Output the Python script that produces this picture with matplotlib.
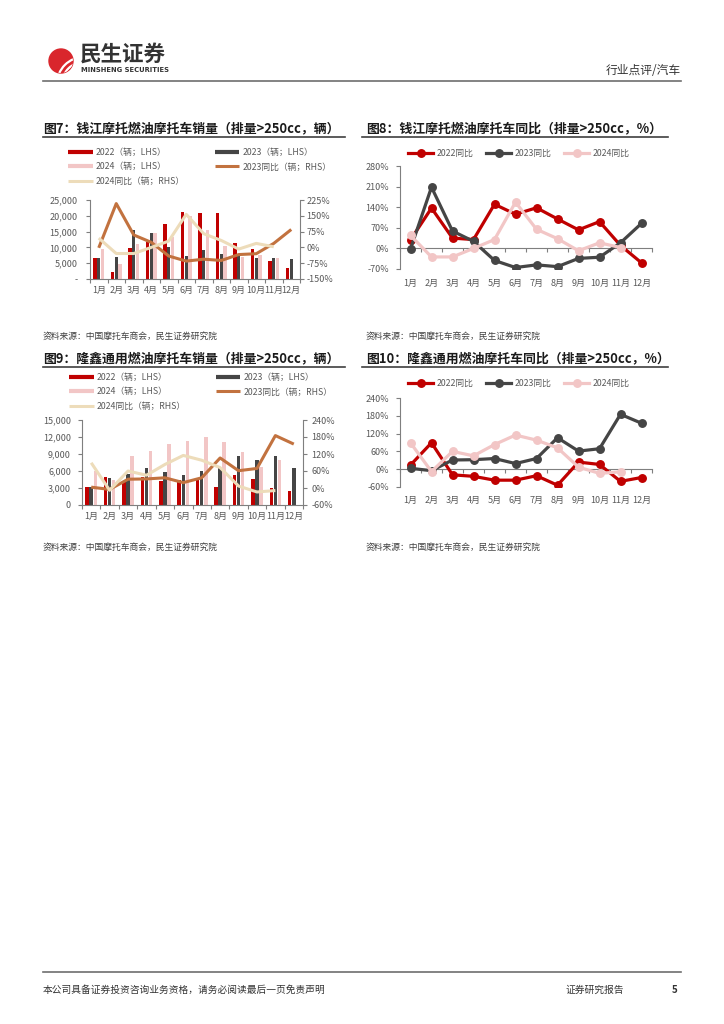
import numpy as np
import matplotlib
matplotlib.use("Agg")
import matplotlib.pyplot as plt
from matplotlib.lines import Line2D
from matplotlib.patches import Circle, Arc
from matplotlib.ticker import FuncFormatter

plt.rcParams['font.family'] = ['Noto Sans CJK SC', 'DejaVu Sans']
plt.rcParams['axes.unicode_minus'] = False

# ---- data ----
months = ['1月', '2月', '3月', '4月', '5月', '6月', '7月', '8月', '9月', '10月', '11月', '12月']

# 钱江 销量（辆）
qj_2022 = [6650, 2150, 9850, 11800, 17250, 21050, 20950, 20950, 11350, 9350, 5550, 3500]
qj_2023 = [6650, 6900, 15650, 14600, 10150, 7250, 9100, 7850, 7600, 6600, 6600, 6450]
qj_2024 = [9550, 4800, 11100, 14700, 13350, 19800, 15550, 10500, 7000, 7750, 6750]
# 钱江 同比（%）
qj_yoy_2022 = [29, 137, 35, 30, 150, 116, 138, 100, 63, 91, 10, -49]
qj_yoy_2023 = [-2, 208, 59, 24, -41, -65, -56, -62, -34, -30, 19, 85]
qj_yoy_2024 = [44, -29, -29, 0, 30, 157, 65, 33, -8, 19, 3]

# 隆鑫 销量（辆）
lx_2022 = [3180, 4900, 4130, 4990, 4300, 4450, 4400, 3180, 5290, 4650, 3060, 2480]
lx_2023 = [3180, 4680, 5410, 6590, 5880, 5290, 6060, 6470, 8590, 7940, 8650, 6470]
lx_2024 = [6000, 4400, 8650, 9530, 10770, 11350, 12060, 11060, 9290, 6770, 7880]
# 隆鑫 同比（%）
lx_yoy_2022 = [14, 89, -19, -24, -37, -37, -22, -54, 24, 16, -41, -28]
lx_yoy_2023 = [3, -5, 31, 32, 36, 19, 36, 106, 61, 69, 185, 155]
lx_yoy_2024 = [89, -8, 60, 45, 83, 115, 98, 72, 7, -14, -9]

RED = '#C00000'
DARK = '#454545'
PINK = '#F2C6C6'
BROWN = '#C2723F'
BEIGE = '#EDDCBA'
AX = '#7F7F7F'
TXT = '#595959'

W, H = 724, 1024
fig = plt.figure(figsize=(W / 100, H / 100), dpi=100)

# page layer in pixel coords
page = fig.add_axes([0, 0, 1, 1])
page.set_xlim(0, W)
page.set_ylim(H, 0)
page.axis('off')


def box(x0, y0, x1, y1):
    return fig.add_axes([x0 / W, 1 - y1 / H, (x1 - x0) / W, (y1 - y0) / H])


def fpt(x, y):
    return (x / W, 1 - y / H)


# ---- header ----
logo = Circle((61, 61), 12, color='#D9262C', zorder=2)
page.add_patch(logo)
for r in [17, 22, 27]:
    a = Arc((84, 84), 2 * r, 2 * r, theta1=0, theta2=360, color='white', lw=1.6, zorder=3)
    a.set_clip_path(logo)
    page.add_patch(a)
page.text(80, 54, '民生证券', fontsize=15.5, fontweight='bold', color='#333333', va='center')
page.text(81, 70, 'MINSHENG SECURITIES', fontsize=4.9, fontweight='bold', color='#333333',
          va='center', family='DejaVu Sans')
page.text(681, 70, '行业点评/汽车', fontsize=8.5, color='#333333', va='center', ha='right')
page.plot([43, 681], [81, 81], color='#6E6E6E', lw=1.2)

# ---- footer ----
page.plot([43, 681], [972, 972], color='#6E6E6E', lw=1.2)
page.text(43, 990, '本公司具备证券投资咨询业务资格，请务必阅读最后一页免责声明', fontsize=7,
          color='#333333', va='center')
page.text(565, 990, '证券研究报告', fontsize=7, color='#333333', va='center')
page.text(672, 990, '5', fontsize=7, color='#333333', va='center', fontweight='bold')

# ---- titles & sources ----
titles = [
    (43, 128, 43, 345, '图7：钱江摩托燃油摩托车销量（排量>250cc，辆）'),
    (366, 128, 362, 668, '图8：钱江摩托燃油摩托车同比（排量>250cc，%）'),
    (43, 358, 43, 345, '图9：隆鑫通用燃油摩托车销量（排量>250cc，辆）'),
    (366, 358, 362, 668, '图10：隆鑫通用燃油摩托车同比（排量>250cc，%）'),
]
for tx, ty, lx0, lx1, t in titles:
    page.text(tx, ty, t, fontsize=9.3, fontweight='bold', color='#1A1A1A', va='center')
    page.plot([lx0, lx1], [ty + 9, ty + 9], color='#404040', lw=1.2)

src = '资料来源：中国摩托车商会，民生证券研究院'
for sx, sy in [(43, 336), (366, 336), (43, 547), (366, 547)]:
    page.text(sx, sy, src, fontsize=6.3, color='#404040', va='center')

x = np.arange(12)


def bar_chart(rect, v22, v23, v24, yoy23, yoy24, ymax, ystep, rlim, rstep, zero_lab,
              lpad, rpad, legend_xy):
    ax = box(*rect)
    w = 0.19
    ax.bar(x - 0.22, v22, w, color=RED, zorder=2)
    ax.bar(x, v23, w, color=DARK, zorder=2)
    ax.bar(np.arange(len(v24)) + 0.22, v24, w, color=PINK, zorder=2)
    ax.set_xlim(-0.5, 11.5)
    ax.set_ylim(0, ymax)
    ax.set_yticks(np.arange(0, ymax + 1, ystep))
    ax.yaxis.set_major_formatter(FuncFormatter(lambda v, p: zero_lab if v == 0 else f'{v:,.0f}'))
    ax.set_xticks(x, months)
    ax.set_xticks(np.arange(-0.5, 12, 1), minor=True)
    ax.tick_params(axis='x', which='major', length=0, pad=5)
    ax.tick_params(axis='x', which='minor', length=3, color=AX, width=0.8)
    ax.tick_params(axis='y', length=3, color=AX, width=0.8, pad=lpad)
    ax.tick_params(labelsize=6.5, labelcolor=TXT)
    for s in ['top', 'right']:
        ax.spines[s].set_visible(False)
    for s in ['left', 'bottom']:
        ax.spines[s].set_color(AX)
        ax.spines[s].set_linewidth(0.8)

    ax2 = ax.twinx()
    ax2.plot(x, yoy23, color=BROWN, lw=2.2, solid_capstyle='butt')
    ax2.plot(np.arange(len(yoy24)), yoy24, color=BEIGE, lw=2.2, solid_capstyle='butt')
    ax2.set_ylim(*rlim)
    ax2.set_yticks(np.arange(rlim[0], rlim[1] + 1, rstep))
    ax2.yaxis.set_major_formatter(FuncFormatter(lambda v, p: f'{v:.0f}%'))
    ax2.tick_params(axis='y', length=3, color=AX, width=0.8, pad=rpad, labelsize=6.5,
                    labelcolor=TXT)
    for s in ['top', 'left', 'bottom']:
        ax2.spines[s].set_visible(False)
    ax2.spines['right'].set_color(AX)
    ax2.spines['right'].set_linewidth(0.8)

    hs = [Line2D([], [], color=RED, lw=3, solid_capstyle='butt'),
          Line2D([], [], color=PINK, lw=3, solid_capstyle='butt'),
          Line2D([], [], color=BEIGE, lw=2.2, solid_capstyle='butt'),
          Line2D([], [], color=DARK, lw=3, solid_capstyle='butt'),
          Line2D([], [], color=BROWN, lw=2.2, solid_capstyle='butt')]
    ls = ['2022（辆；LHS）', '2024（辆；LHS）', '2024同比（辆；RHS）',
          '2023（辆；LHS）', '2023同比（辆；RHS）']
    ax2.legend(hs, ls, ncol=2, loc='upper left', bbox_to_anchor=fpt(*legend_xy),
               bbox_transform=fig.transFigure, frameon=False, fontsize=6.3,
               handlelength=2.8, handletextpad=0.4, columnspacing=3.4,
               labelspacing=0.62, borderpad=0, borderaxespad=0, labelcolor=TXT)
    return ax


def line_chart(rect, s22, s23, s24, ylim, ystep, xpad, legend_xy):
    ax = box(*rect)
    for vals, c in [(s22, RED), (s23, DARK), (s24, PINK)]:
        ax.plot(np.arange(len(vals)), vals, color=c, lw=2.3, marker='o', ms=5.4, zorder=3)
    ax.set_xlim(-0.5, 11.5)
    ax.set_ylim(*ylim)
    ax.set_yticks(np.arange(ylim[0], ylim[1] + 1, ystep))
    ax.yaxis.set_major_formatter(FuncFormatter(lambda v, p: f'{v:.0f}%'))
    ax.spines['bottom'].set_position(('data', 0))
    ax.set_xticks(x)
    ax.set_xticks(np.arange(-0.5, 12, 1), minor=True)
    ax.tick_params(axis='x', which='major', length=0, labelbottom=False)
    ax.tick_params(axis='x', which='minor', length=3, color=AX, width=0.8)
    ax.tick_params(axis='y', length=3, color=AX, width=0.8, pad=5, labelsize=6.5,
                   labelcolor=TXT)
    for s in ['top', 'right']:
        ax.spines[s].set_visible(False)
    for s in ['left', 'bottom']:
        ax.spines[s].set_color(AX)
        ax.spines[s].set_linewidth(0.8)
    sec = ax.secondary_xaxis(0.0)
    sec.set_xticks(x, labels=months)
    sec.tick_params(length=0, pad=xpad, labelsize=6.5, labelcolor=TXT)
    sec.spines['bottom'].set_visible(False)

    hs = [Line2D([], [], color=c, lw=2.3, marker='o', ms=5.4) for c in [RED, DARK, PINK]]
    ax.legend(hs, ['2022同比', '2023同比', '2024同比'], ncol=3, loc='upper left',
              bbox_to_anchor=fpt(*legend_xy), bbox_transform=fig.transFigure,
              frameon=False, fontsize=6.3, handlelength=2.9, handletextpad=0.4,
              columnspacing=1.4, borderpad=0, borderaxespad=0, labelcolor=TXT)
    return ax


bar_chart((90, 200, 300, 279), qj_2022, qj_2023, qj_2024, qj_yoy_2023, qj_yoy_2024,
          25000, 5000, (-150, 225), 75, '-', 6, 1.5, (68, 148))
line_chart((400, 166, 652, 269), qj_yoy_2022, qj_yoy_2023, qj_yoy_2024, (-70, 280), 70, 7,
           (408, 149))
bar_chart((82, 420, 303, 505), lx_2022, lx_2023, lx_2024, lx_yoy_2023, lx_yoy_2024,
          15000, 3000, (-60, 240), 60, '0', 5, 3, (69, 373))
line_chart((400, 398, 652, 487), lx_yoy_2022, lx_yoy_2023, lx_yoy_2024, (-60, 240), 60, 6.5,
           (408, 379))

fig.savefig('out.png', dpi=100)
